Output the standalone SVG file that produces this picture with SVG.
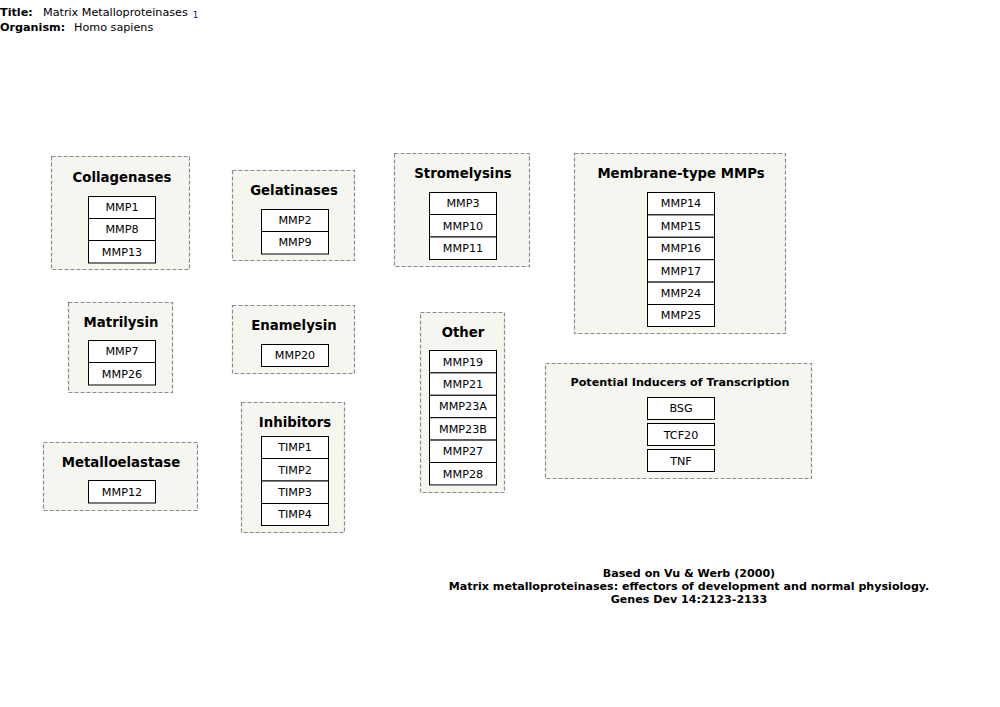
<svg xmlns="http://www.w3.org/2000/svg" width="1000" height="707" viewBox="0 0 1000 707">
<style>
text{font-family:"DejaVu Sans",Verdana,sans-serif;fill:#000}
.grp{fill:#f6f6f0;stroke:#8c8c8c;stroke-width:1.2;stroke-dasharray:4,2}
.gt{font-size:13.3px;font-weight:bold;text-anchor:middle}
.gt2{font-size:11.2px;font-weight:bold;text-anchor:middle}
.gene{fill:#fff;stroke:#000;stroke-width:1}
.gl{font-size:11.2px;text-anchor:middle}
.hb{font-size:11.2px;font-weight:bold}
.hr{font-size:11.2px}
.ft{font-size:11.1px;font-weight:bold;text-anchor:middle}
</style>
<rect width="1000" height="707" fill="#fff"/>
<g id="header">
<text x="0" y="16" class="hb">Title:</text>
<text x="43" y="16" class="hr">Matrix Metalloproteinases</text>
<text x="193" y="18" style="font-size:8px;fill:#00008b">1</text>
<text x="0" y="31" class="hb">Organism:</text>
<text x="74" y="31" class="hr">Homo sapiens</text>
</g>
<g id="collagenases">
<rect class="grp" x="51.5" y="156.5" width="138" height="113"/>
<text class="gt" x="122" y="182">Collagenases</text>
<rect class="gene" x="88.5" y="196.5" width="67" height="22"/><text class="gl" x="122" y="211">MMP1</text>
<rect class="gene" x="88.5" y="218.5" width="67" height="22"/><text class="gl" x="122" y="233">MMP8</text>
<rect class="gene" x="88.5" y="240.5" width="67" height="22.5"/><text class="gl" x="122" y="256">MMP13</text>
</g>
<g id="gelatinases">
<rect class="grp" x="232.5" y="170.5" width="122" height="90"/>
<text class="gt" x="294" y="195">Gelatinases</text>
<rect class="gene" x="261.5" y="209.5" width="67" height="22"/><text class="gl" x="295" y="224">MMP2</text>
<rect class="gene" x="261.5" y="231.5" width="67" height="22.5"/><text class="gl" x="295" y="246">MMP9</text>
</g>
<g id="stromelysins">
<rect class="grp" x="394.5" y="153.5" width="135" height="113"/>
<text class="gt" x="463" y="178">Stromelysins</text>
<rect class="gene" x="429.5" y="192.5" width="67" height="22"/><text class="gl" x="463" y="207">MMP3</text>
<rect class="gene" x="429.5" y="214.5" width="67" height="22.5"/><text class="gl" x="463" y="230">MMP10</text>
<rect class="gene" x="429.5" y="237" width="67" height="22.5"/><text class="gl" x="463" y="252">MMP11</text>
</g>
<g id="membrane-type">
<rect class="grp" x="574.5" y="153.5" width="211" height="180"/>
<text class="gt" x="681" y="178">Membrane-type MMPs</text>
<rect class="gene" x="647.5" y="192.5" width="67" height="22.4"/><text class="gl" x="681" y="207">MMP14</text>
<rect class="gene" x="647.5" y="214.9" width="67" height="22.4"/><text class="gl" x="681" y="230">MMP15</text>
<rect class="gene" x="647.5" y="237.3" width="67" height="22.4"/><text class="gl" x="681" y="252">MMP16</text>
<rect class="gene" x="647.5" y="259.7" width="67" height="22.4"/><text class="gl" x="681" y="275">MMP17</text>
<rect class="gene" x="647.5" y="282.1" width="67" height="22.4"/><text class="gl" x="681" y="297">MMP24</text>
<rect class="gene" x="647.5" y="304.5" width="67" height="22"/><text class="gl" x="681" y="319">MMP25</text>
</g>
<g id="matrilysin">
<rect class="grp" x="68.5" y="302.5" width="104" height="90"/>
<text class="gt" x="121" y="327">Matrilysin</text>
<rect class="gene" x="88.5" y="340.5" width="67" height="22"/><text class="gl" x="122" y="355">MMP7</text>
<rect class="gene" x="88.5" y="362.5" width="67" height="22.5"/><text class="gl" x="122" y="378">MMP26</text>
</g>
<g id="enamelysin">
<rect class="grp" x="232.5" y="305.5" width="122" height="68"/>
<text class="gt" x="294" y="330">Enamelysin</text>
<rect class="gene" x="261.5" y="344.5" width="67" height="22"/><text class="gl" x="295" y="359">MMP20</text>
</g>
<g id="metalloelastase">
<rect class="grp" x="43.5" y="442.5" width="154" height="68"/>
<text class="gt" x="121" y="467">Metalloelastase</text>
<rect class="gene" x="88.5" y="480.5" width="67" height="22.5"/><text class="gl" x="122" y="496">MMP12</text>
</g>
<g id="inhibitors">
<rect class="grp" x="241.5" y="402.5" width="103" height="130"/>
<text class="gt" x="295" y="427">Inhibitors</text>
<rect class="gene" x="261.5" y="436.5" width="67" height="22"/><text class="gl" x="295" y="451">TIMP1</text>
<rect class="gene" x="261.5" y="458.5" width="67" height="22.5"/><text class="gl" x="295" y="474">TIMP2</text>
<rect class="gene" x="261.5" y="481" width="67" height="22.5"/><text class="gl" x="295" y="496">TIMP3</text>
<rect class="gene" x="261.5" y="503.5" width="67" height="22"/><text class="gl" x="295" y="518">TIMP4</text>
</g>
<g id="other">
<rect class="grp" x="420.5" y="312.5" width="84" height="180"/>
<text class="gt" x="463" y="337">Other</text>
<rect class="gene" x="429.5" y="350.5" width="67" height="22.4"/><text class="gl" x="463" y="366">MMP19</text>
<rect class="gene" x="429.5" y="372.9" width="67" height="22.4"/><text class="gl" x="463" y="388">MMP21</text>
<rect class="gene" x="429.5" y="395.3" width="67" height="22.4"/><text class="gl" x="463" y="410">MMP23A</text>
<rect class="gene" x="429.5" y="417.7" width="67" height="22.4"/><text class="gl" x="463" y="433">MMP23B</text>
<rect class="gene" x="429.5" y="440.1" width="67" height="22.4"/><text class="gl" x="463" y="455">MMP27</text>
<rect class="gene" x="429.5" y="462.5" width="67" height="22.4"/><text class="gl" x="463" y="478">MMP28</text>
</g>
<g id="inducers">
<rect class="grp" x="545.5" y="363.5" width="266" height="115"/>
<text class="gt2" x="680" y="386">Potential Inducers of Transcription</text>
<rect class="gene" x="647.5" y="397.5" width="67" height="22"/><text class="gl" x="681" y="412">BSG</text>
<rect class="gene" x="647.5" y="423.5" width="67" height="22"/><text class="gl" x="681" y="439">TCF20</text>
<rect class="gene" x="647.5" y="449.5" width="67" height="22"/><text class="gl" x="681" y="465">TNF</text>
</g>
<g id="connectors"></g>
<g id="footer">
<text class="ft" x="689" y="577">Based on Vu &amp; Werb (2000)</text>
<text class="ft" x="689" y="590">Matrix metalloproteinases: effectors of development and normal physiology.</text>
<text class="ft" x="689" y="603">Genes Dev 14:2123-2133</text>
</g>
</svg>
